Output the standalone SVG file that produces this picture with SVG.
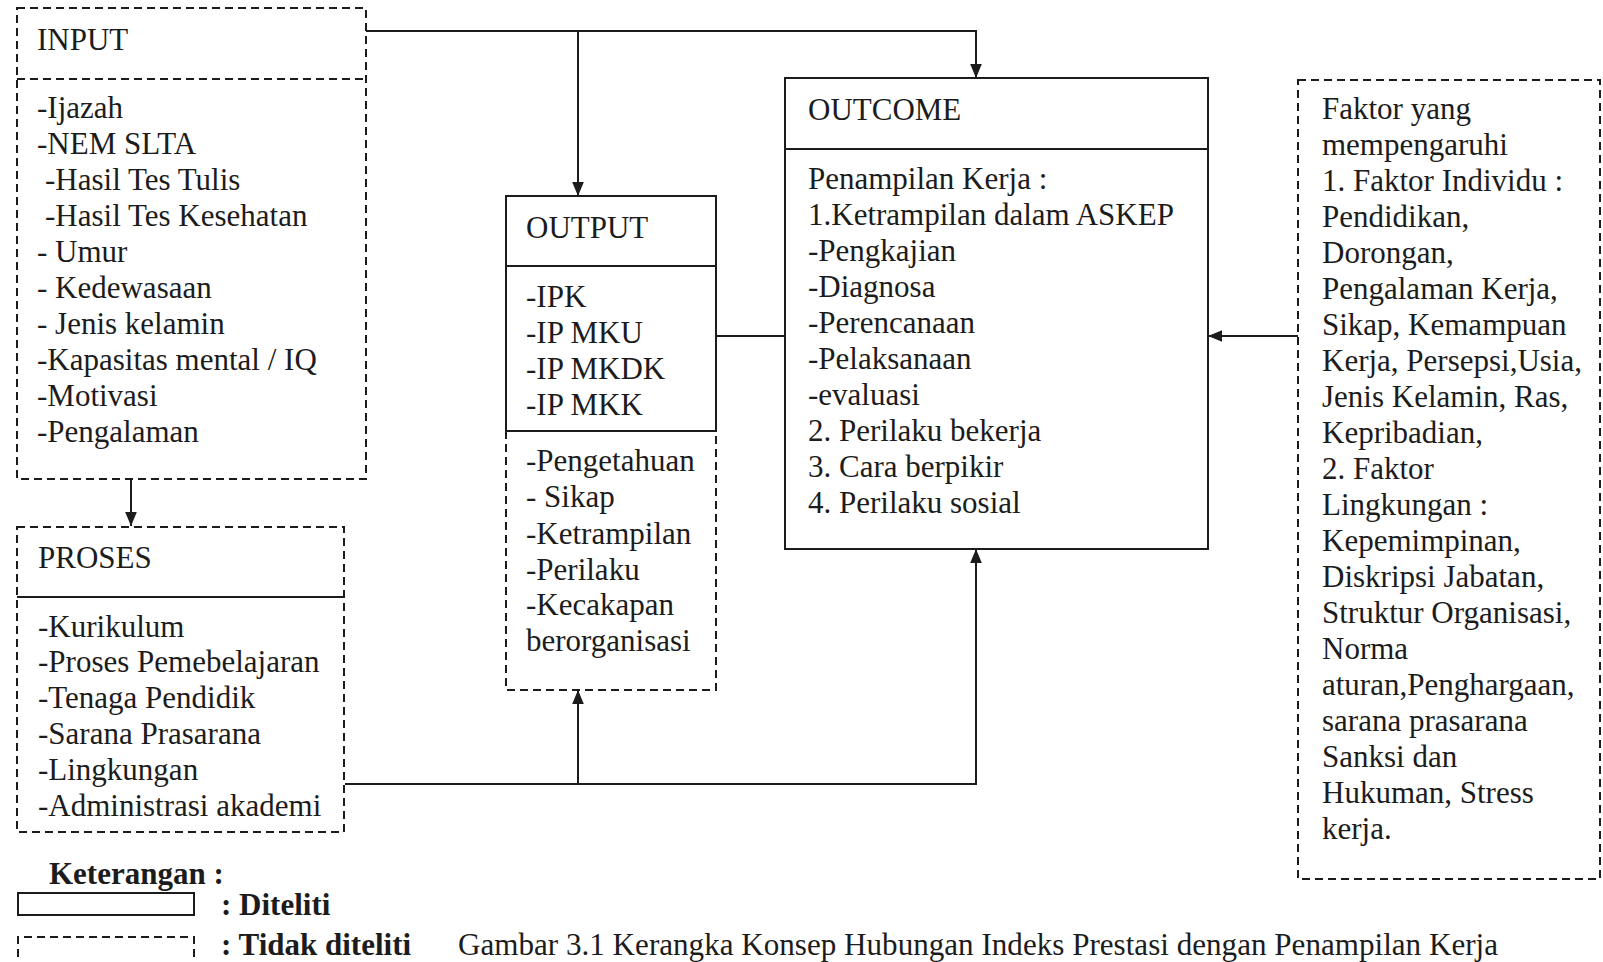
<svg xmlns="http://www.w3.org/2000/svg" width="1603" height="962" viewBox="0 0 1603 962">
<style>
  text { font-family: "Liberation Serif", "Times New Roman", serif; font-size: 31px; fill: #1c1c1c; }
  .b { font-weight: bold; font-size: 31px; }
  .solid { fill: none; stroke: #1c1c1c; stroke-width: 2; }
  .dash { fill: none; stroke: #1c1c1c; stroke-width: 2; stroke-dasharray: 8 5; }
  .conn { fill: none; stroke: #1c1c1c; stroke-width: 2; }
</style>
<defs>
  <marker id="arr" viewBox="0 0 12 10" refX="12" refY="5" markerWidth="14" markerHeight="12" markerUnits="userSpaceOnUse" orient="auto">
    <path d="M0,0 L12,5 L0,10 z" fill="#1c1c1c"/>
  </marker>
</defs>
<rect width="1603" height="962" fill="#ffffff"/>

<g id="connectors">
  <path class="conn" d="M366,31 H976 V78" marker-end="url(#arr)"/>
  <path class="conn" d="M578,31 V196" marker-end="url(#arr)"/>
  <path class="conn" d="M131,479 V526" marker-end="url(#arr)"/>
  <path class="conn" d="M716,336 H785"/>
  <path class="conn" d="M1298,336 H1208" marker-end="url(#arr)"/>
  <path class="conn" d="M345,784 H976 V549" marker-end="url(#arr)"/>
  <path class="conn" d="M578,784 V690" marker-end="url(#arr)"/>
</g>

<g id="input">
  <rect class="dash" x="17" y="8" width="349" height="471"/>
  <line class="dash" x1="17" y1="79" x2="366" y2="79"/>
  <text x="37" y="50">INPUT</text>
  <text x="37" y="118">-Ijazah</text>
  <text x="37" y="154">-NEM SLTA</text>
  <text x="45" y="190">-Hasil Tes Tulis</text>
  <text x="45" y="226">-Hasil Tes Kesehatan</text>
  <text x="37" y="262">- Umur</text>
  <text x="37" y="298">- Kedewasaan</text>
  <text x="37" y="334">- Jenis kelamin</text>
  <text x="37" y="370">-Kapasitas mental / IQ</text>
  <text x="37" y="406">-Motivasi</text>
  <text x="37" y="442">-Pengalaman</text>
</g>

<g id="proses">
  <rect class="dash" x="17" y="527" width="327" height="305"/>
  <line class="solid" x1="17" y1="597" x2="344" y2="597"/>
  <text x="38" y="568">PROSES</text>
  <text x="38" y="637">-Kurikulum</text>
  <text x="38" y="672">-Proses Pemebelajaran</text>
  <text x="38" y="708">-Tenaga Pendidik</text>
  <text x="38" y="744">-Sarana Prasarana</text>
  <text x="38" y="780">-Lingkungan</text>
  <text x="38" y="816">-Administrasi akademi</text>
</g>

<g id="output">
  <path class="dash" d="M506,431 V690 H716 V431"/>
  <rect class="solid" x="506" y="196" width="210" height="235"/>
  <line class="solid" x1="506" y1="266" x2="716" y2="266"/>
  <text x="526" y="238">OUTPUT</text>
  <text x="526" y="307">-IPK</text>
  <text x="526" y="343">-IP MKU</text>
  <text x="526" y="379">-IP MKDK</text>
  <text x="526" y="415">-IP MKK</text>
  <text x="526" y="471">-Pengetahuan</text>
  <text x="526" y="507">- Sikap</text>
  <text x="526" y="544">-Ketrampilan</text>
  <text x="526" y="580">-Perilaku</text>
  <text x="526" y="615">-Kecakapan</text>
  <text x="526" y="651">berorganisasi</text>
</g>

<g id="outcome">
  <rect class="solid" x="785" y="78" width="423" height="471"/>
  <line class="solid" x1="785" y1="149" x2="1208" y2="149"/>
  <text x="808" y="120">OUTCOME</text>
  <text x="808" y="189">Penampilan Kerja :</text>
  <text x="808" y="225">1.Ketrampilan dalam ASKEP</text>
  <text x="808" y="261">-Pengkajian</text>
  <text x="808" y="297">-Diagnosa</text>
  <text x="808" y="333">-Perencanaan</text>
  <text x="808" y="369">-Pelaksanaan</text>
  <text x="808" y="405">-evaluasi</text>
  <text x="808" y="441">2. Perilaku bekerja</text>
  <text x="808" y="477">3. Cara berpikir</text>
  <text x="808" y="513">4. Perilaku sosial</text>
</g>

<g id="faktor">
  <rect class="dash" x="1298" y="80" width="302" height="799"/>
  <text x="1322" y="119">Faktor yang</text>
  <text x="1322" y="155">mempengaruhi</text>
  <text x="1322" y="191">1. Faktor Individu :</text>
  <text x="1322" y="227">Pendidikan,</text>
  <text x="1322" y="263">Dorongan,</text>
  <text x="1322" y="299">Pengalaman Kerja,</text>
  <text x="1322" y="335">Sikap, Kemampuan</text>
  <text x="1322" y="371">Kerja, Persepsi,Usia,</text>
  <text x="1322" y="407">Jenis Kelamin, Ras,</text>
  <text x="1322" y="443">Kepribadian,</text>
  <text x="1322" y="479">2. Faktor</text>
  <text x="1322" y="515">Lingkungan :</text>
  <text x="1322" y="551">Kepemimpinan,</text>
  <text x="1322" y="587">Diskripsi Jabatan,</text>
  <text x="1322" y="623">Struktur Organisasi,</text>
  <text x="1322" y="659">Norma</text>
  <text x="1322" y="695">aturan,Penghargaan,</text>
  <text x="1322" y="731">sarana prasarana</text>
  <text x="1322" y="767">Sanksi dan</text>
  <text x="1322" y="803">Hukuman, Stress</text>
  <text x="1322" y="839">kerja.</text>
</g>

<g id="legend">
  <text class="b" x="49" y="884">Keterangan :</text>
  <rect class="solid" x="18" y="893" width="176" height="22"/>
  <text class="b" x="221" y="915">: Diteliti</text>
  <path class="dash" d="M18,970 V937 H194 V970"/>
  <text class="b" x="221" y="955">: Tidak diteliti</text>
</g>

<g id="caption">
  <text x="458" y="955" font-size="30" textLength="1040" lengthAdjust="spacingAndGlyphs">Gambar 3.1 Kerangka Konsep Hubungan Indeks Prestasi dengan Penampilan Kerja</text>
</g>
</svg>
